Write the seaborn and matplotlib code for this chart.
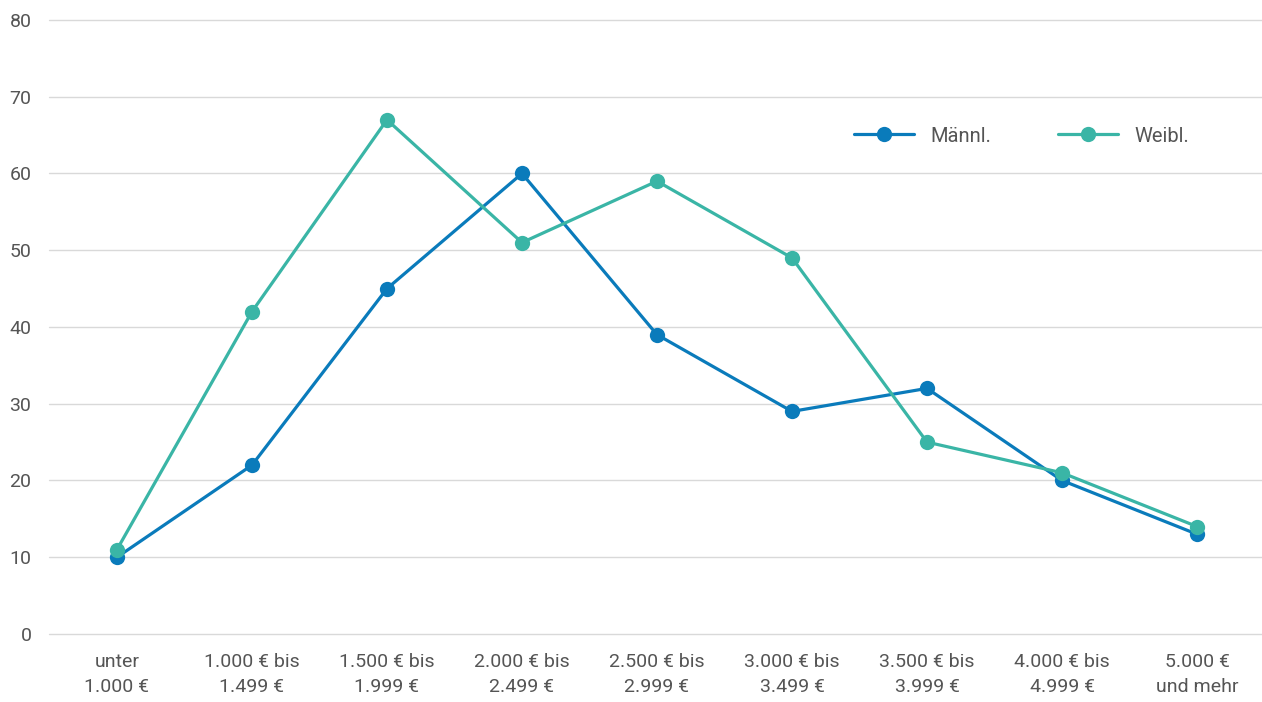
import seaborn as sns
import matplotlib.pyplot as plt
import pandas as pd

# Einkommensklassen (x-Achse)
kategorien = [
    "unter\n1.000 €",
    "1.000 € bis\n1.499 €",
    "1.500 € bis\n1.999 €",
    "2.000 € bis\n2.499 €",
    "2.500 € bis\n2.999 €",
    "3.000 € bis\n3.499 €",
    "3.500 € bis\n3.999 €",
    "4.000 € bis\n4.999 €",
    "5.000 €\nund mehr",
]
maennlich = [10, 22, 45, 60, 39, 29, 32, 20, 13]
weiblich = [11, 42, 67, 51, 59, 49, 25, 21, 14]
serien = ["Männl.", "Weibl."]
farben = {"Männl.": "#0a7bbb", "Weibl.": "#3ab5a6"}
y_ticks = [0, 10, 20, 30, 40, 50, 60, 70, 80]

sns.set_theme(style="white")
plt.rcParams["font.family"] = ["Roboto", "DejaVu Sans"]

df = pd.DataFrame({
    "Kategorie": kategorien * 2,
    "Wert": maennlich + weiblich,
    "Geschlecht": [serien[0]] * len(kategorien) + [serien[1]] * len(kategorien),
})

fig = plt.figure(figsize=(12.62, 7.02), dpi=100)
ax = fig.add_axes([0.0392, 0.0969, 0.9628, 0.8746])

sns.lineplot(data=df, x="Kategorie", y="Wert", hue="Geschlecht", palette=farben,
             marker="o", markersize=11, markeredgewidth=0, linewidth=2.3,
             sort=False, ax=ax)

ax.set_ylim(0, 80)
ax.set_xlim(-0.5, len(kategorien) - 0.5)
ax.set_yticks(y_ticks)
ax.yaxis.grid(True, color="#d9d9d9", linewidth=1)
for gl in ax.get_ygridlines():
    gl.set_clip_on(False)
ax.set_axisbelow(True)
for s in ax.spines.values():
    s.set_visible(False)
ax.set_xlabel("")
ax.set_ylabel("")
ax.tick_params(axis="both", length=0, labelsize=14, labelcolor="#555555")
ax.tick_params(axis="y", pad=13)
ax.tick_params(axis="x", pad=14)
for lbl in ax.get_xticklabels():
    lbl.set_linespacing(1.5)

leg = ax.legend(loc="center left", bbox_to_anchor=(0.662, 0.811), ncol=2, frameon=False,
                fontsize=14.5, handlelength=3.0, columnspacing=3.3, handletextpad=0.8,
                borderaxespad=0, borderpad=0)
for t in leg.get_texts():
    t.set_color("#555555")

fig.savefig("out.png", dpi=100)
plt.close(fig)
